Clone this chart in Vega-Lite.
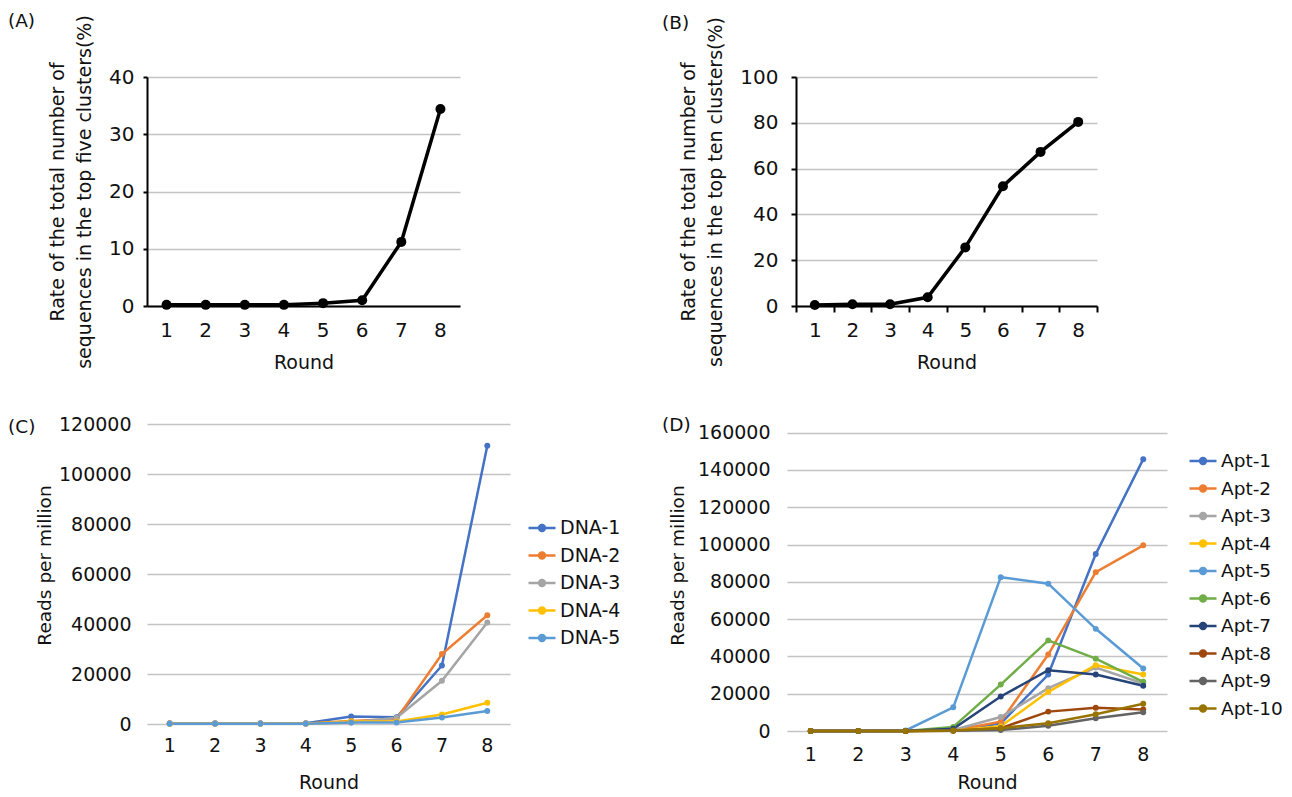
{
  "$schema": "https://vega.github.io/schema/vega-lite/v6.json",
  "background": "white",
  "padding": {"left": 8, "top": 12, "right": 0, "bottom": 0},
  "config": {
    "font": "DejaVu Sans",
    "view": {"stroke": null},
    "axis": {
      "labelFont": "DejaVu Sans",
      "titleFont": "DejaVu Sans",
      "labelColor": "#111111",
      "titleColor": "#111111",
      "titleFontWeight": "normal",
      "gridColor": "#c4c4c4",
      "gridWidth": 1.5,
      "labelAngle": 0
    },
    "legend": {
      "labelFont": "DejaVu Sans",
      "labelColor": "#111111",
      "padding": 0
    },
    "title": {"font": "DejaVu Sans", "fontWeight": "normal", "color": "#111111", "fontSize": 18.5}
  },
  "datasets": {
    "top5": [
      {"Round": 1, "Rate": 0.2}, {"Round": 2, "Rate": 0.2}, {"Round": 3, "Rate": 0.2}, {"Round": 4, "Rate": 0.2},
      {"Round": 5, "Rate": 0.5}, {"Round": 6, "Rate": 1.0}, {"Round": 7, "Rate": 11.2}, {"Round": 8, "Rate": 34.4}
    ],
    "top10": [
      {"Round": 1, "Rate": 0.4}, {"Round": 2, "Rate": 0.8}, {"Round": 3, "Rate": 0.8}, {"Round": 4, "Rate": 3.8},
      {"Round": 5, "Rate": 25.6}, {"Round": 6, "Rate": 52.3}, {"Round": 7, "Rate": 67.3}, {"Round": 8, "Rate": 80.4}
    ],
    "dna": [
      {"Sequence": "DNA-1", "Round": 1, "RPM": 300}, {"Sequence": "DNA-1", "Round": 2, "RPM": 300}, {"Sequence": "DNA-1", "Round": 3, "RPM": 300}, {"Sequence": "DNA-1", "Round": 4, "RPM": 300},
      {"Sequence": "DNA-1", "Round": 5, "RPM": 3000}, {"Sequence": "DNA-1", "Round": 6, "RPM": 2700}, {"Sequence": "DNA-1", "Round": 7, "RPM": 23400}, {"Sequence": "DNA-1", "Round": 8, "RPM": 111300},
      {"Sequence": "DNA-2", "Round": 1, "RPM": 200}, {"Sequence": "DNA-2", "Round": 2, "RPM": 200}, {"Sequence": "DNA-2", "Round": 3, "RPM": 200}, {"Sequence": "DNA-2", "Round": 4, "RPM": 200},
      {"Sequence": "DNA-2", "Round": 5, "RPM": 1200}, {"Sequence": "DNA-2", "Round": 6, "RPM": 2000}, {"Sequence": "DNA-2", "Round": 7, "RPM": 28000}, {"Sequence": "DNA-2", "Round": 8, "RPM": 43500},
      {"Sequence": "DNA-3", "Round": 1, "RPM": 200}, {"Sequence": "DNA-3", "Round": 2, "RPM": 200}, {"Sequence": "DNA-3", "Round": 3, "RPM": 200}, {"Sequence": "DNA-3", "Round": 4, "RPM": 200},
      {"Sequence": "DNA-3", "Round": 5, "RPM": 600}, {"Sequence": "DNA-3", "Round": 6, "RPM": 2500}, {"Sequence": "DNA-3", "Round": 7, "RPM": 17300}, {"Sequence": "DNA-3", "Round": 8, "RPM": 40600},
      {"Sequence": "DNA-4", "Round": 1, "RPM": 100}, {"Sequence": "DNA-4", "Round": 2, "RPM": 100}, {"Sequence": "DNA-4", "Round": 3, "RPM": 100}, {"Sequence": "DNA-4", "Round": 4, "RPM": 100},
      {"Sequence": "DNA-4", "Round": 5, "RPM": 1000}, {"Sequence": "DNA-4", "Round": 6, "RPM": 1000}, {"Sequence": "DNA-4", "Round": 7, "RPM": 3800}, {"Sequence": "DNA-4", "Round": 8, "RPM": 8500},
      {"Sequence": "DNA-5", "Round": 1, "RPM": 100}, {"Sequence": "DNA-5", "Round": 2, "RPM": 100}, {"Sequence": "DNA-5", "Round": 3, "RPM": 100}, {"Sequence": "DNA-5", "Round": 4, "RPM": 100},
      {"Sequence": "DNA-5", "Round": 5, "RPM": 600}, {"Sequence": "DNA-5", "Round": 6, "RPM": 600}, {"Sequence": "DNA-5", "Round": 7, "RPM": 2600}, {"Sequence": "DNA-5", "Round": 8, "RPM": 5200}
    ],
    "apt": [
      {"Sequence": "Apt-1", "Round": 1, "RPM": 0}, {"Sequence": "Apt-1", "Round": 2, "RPM": 0}, {"Sequence": "Apt-1", "Round": 3, "RPM": 0}, {"Sequence": "Apt-1", "Round": 4, "RPM": 500},
      {"Sequence": "Apt-1", "Round": 5, "RPM": 4000}, {"Sequence": "Apt-1", "Round": 6, "RPM": 30300}, {"Sequence": "Apt-1", "Round": 7, "RPM": 94900}, {"Sequence": "Apt-1", "Round": 8, "RPM": 145800},
      {"Sequence": "Apt-2", "Round": 1, "RPM": 0}, {"Sequence": "Apt-2", "Round": 2, "RPM": 0}, {"Sequence": "Apt-2", "Round": 3, "RPM": 0}, {"Sequence": "Apt-2", "Round": 4, "RPM": 300},
      {"Sequence": "Apt-2", "Round": 5, "RPM": 5000}, {"Sequence": "Apt-2", "Round": 6, "RPM": 41000}, {"Sequence": "Apt-2", "Round": 7, "RPM": 85200}, {"Sequence": "Apt-2", "Round": 8, "RPM": 99600},
      {"Sequence": "Apt-3", "Round": 1, "RPM": 0}, {"Sequence": "Apt-3", "Round": 2, "RPM": 0}, {"Sequence": "Apt-3", "Round": 3, "RPM": 0}, {"Sequence": "Apt-3", "Round": 4, "RPM": 500},
      {"Sequence": "Apt-3", "Round": 5, "RPM": 7500}, {"Sequence": "Apt-3", "Round": 6, "RPM": 23000}, {"Sequence": "Apt-3", "Round": 7, "RPM": 34000}, {"Sequence": "Apt-3", "Round": 8, "RPM": 25500},
      {"Sequence": "Apt-4", "Round": 1, "RPM": 0}, {"Sequence": "Apt-4", "Round": 2, "RPM": 0}, {"Sequence": "Apt-4", "Round": 3, "RPM": 0}, {"Sequence": "Apt-4", "Round": 4, "RPM": 200},
      {"Sequence": "Apt-4", "Round": 5, "RPM": 2500}, {"Sequence": "Apt-4", "Round": 6, "RPM": 21000}, {"Sequence": "Apt-4", "Round": 7, "RPM": 35300}, {"Sequence": "Apt-4", "Round": 8, "RPM": 30300},
      {"Sequence": "Apt-5", "Round": 1, "RPM": 0}, {"Sequence": "Apt-5", "Round": 2, "RPM": 0}, {"Sequence": "Apt-5", "Round": 3, "RPM": 300}, {"Sequence": "Apt-5", "Round": 4, "RPM": 12700},
      {"Sequence": "Apt-5", "Round": 5, "RPM": 82500}, {"Sequence": "Apt-5", "Round": 6, "RPM": 79000}, {"Sequence": "Apt-5", "Round": 7, "RPM": 54800}, {"Sequence": "Apt-5", "Round": 8, "RPM": 33500},
      {"Sequence": "Apt-6", "Round": 1, "RPM": 0}, {"Sequence": "Apt-6", "Round": 2, "RPM": 0}, {"Sequence": "Apt-6", "Round": 3, "RPM": 0}, {"Sequence": "Apt-6", "Round": 4, "RPM": 2200},
      {"Sequence": "Apt-6", "Round": 5, "RPM": 24900}, {"Sequence": "Apt-6", "Round": 6, "RPM": 48600}, {"Sequence": "Apt-6", "Round": 7, "RPM": 38800}, {"Sequence": "Apt-6", "Round": 8, "RPM": 26400},
      {"Sequence": "Apt-7", "Round": 1, "RPM": 0}, {"Sequence": "Apt-7", "Round": 2, "RPM": 0}, {"Sequence": "Apt-7", "Round": 3, "RPM": 0}, {"Sequence": "Apt-7", "Round": 4, "RPM": 1200},
      {"Sequence": "Apt-7", "Round": 5, "RPM": 18500}, {"Sequence": "Apt-7", "Round": 6, "RPM": 32600}, {"Sequence": "Apt-7", "Round": 7, "RPM": 30300}, {"Sequence": "Apt-7", "Round": 8, "RPM": 24300},
      {"Sequence": "Apt-8", "Round": 1, "RPM": 0}, {"Sequence": "Apt-8", "Round": 2, "RPM": 0}, {"Sequence": "Apt-8", "Round": 3, "RPM": 0}, {"Sequence": "Apt-8", "Round": 4, "RPM": 200},
      {"Sequence": "Apt-8", "Round": 5, "RPM": 1500}, {"Sequence": "Apt-8", "Round": 6, "RPM": 10400}, {"Sequence": "Apt-8", "Round": 7, "RPM": 12500}, {"Sequence": "Apt-8", "Round": 8, "RPM": 11500},
      {"Sequence": "Apt-9", "Round": 1, "RPM": 0}, {"Sequence": "Apt-9", "Round": 2, "RPM": 0}, {"Sequence": "Apt-9", "Round": 3, "RPM": 0}, {"Sequence": "Apt-9", "Round": 4, "RPM": 100},
      {"Sequence": "Apt-9", "Round": 5, "RPM": 500}, {"Sequence": "Apt-9", "Round": 6, "RPM": 2800}, {"Sequence": "Apt-9", "Round": 7, "RPM": 6800}, {"Sequence": "Apt-9", "Round": 8, "RPM": 10000},
      {"Sequence": "Apt-10", "Round": 1, "RPM": 0}, {"Sequence": "Apt-10", "Round": 2, "RPM": 0}, {"Sequence": "Apt-10", "Round": 3, "RPM": 0}, {"Sequence": "Apt-10", "Round": 4, "RPM": 300},
      {"Sequence": "Apt-10", "Round": 5, "RPM": 1500}, {"Sequence": "Apt-10", "Round": 6, "RPM": 4200}, {"Sequence": "Apt-10", "Round": 7, "RPM": 9000}, {"Sequence": "Apt-10", "Round": 8, "RPM": 14600}
    ]
  },
  "spacing": 43,
  "vconcat": [
    {
      "align": "none",
      "spacing": 202,
      "hconcat": [
        {
          "width": 313,
          "height": 229,
          "title": {"text": "(A)", "anchor": "start", "frame": "group", "dx": -139, "offset": -16},
          "data": {"name": "top5"},
          "encoding": {
            "x": {
              "field": "Round", "type": "ordinal",
              "scale": {"type": "band", "paddingInner": 0, "paddingOuter": 0},
              "axis": {"title": "Round", "ticks": false, "grid": false, "domainColor": "#000000", "domainWidth": 2,
                       "labelFontSize": 20, "labelPadding": 14, "titleFontSize": 19, "titlePadding": 13}
            },
            "y": {
              "field": "Rate", "type": "quantitative",
              "scale": {"domain": [0, 40]},
              "axis": {"values": [0, 10, 20, 30, 40],
                       "title": ["Rate of the total number of", "sequences in the top five clusters(%)"],
                       "domainColor": "#000000", "domainWidth": 2, "tickColor": "#000000", "tickWidth": 2, "tickSize": 4,
                       "labelFontSize": 20, "labelPadding": 9, "titleFontSize": 19, "titleLineHeight": 27, "titlePadding": 14}
            }
          },
          "layer": [
            {"mark": {"type": "line", "color": "#000000", "strokeWidth": 3.5}},
            {"mark": {"type": "point", "filled": true, "color": "#000000", "size": 100, "opacity": 1}}
          ]
        },
        {
          "width": 301,
          "height": 229,
          "title": {"text": "(B)", "anchor": "start", "frame": "group", "dx": -134, "offset": -16},
          "data": {"name": "top10"},
          "encoding": {
            "x": {
              "field": "Round", "type": "ordinal",
              "scale": {"type": "band", "paddingInner": 0, "paddingOuter": 0},
              "axis": {"title": "Round", "ticks": true, "tickBand": "extent", "tickColor": "#000000", "tickWidth": 2, "tickSize": 6,
                       "grid": false, "domainColor": "#000000", "domainWidth": 2,
                       "labelFontSize": 20, "labelPadding": 8, "titleFontSize": 19, "titlePadding": 13}
            },
            "y": {
              "field": "Rate", "type": "quantitative",
              "scale": {"domain": [0, 100]},
              "axis": {"values": [0, 20, 40, 60, 80, 100],
                       "title": ["Rate of the total number of", "sequences in the top ten clusters(%)"],
                       "domainColor": "#000000", "domainWidth": 2, "tickColor": "#000000", "tickWidth": 2, "tickSize": 5,
                       "labelFontSize": 20, "labelPadding": 13, "titleFontSize": 19, "titleLineHeight": 27, "titlePadding": 14}
            }
          },
          "layer": [
            {"mark": {"type": "line", "color": "#000000", "strokeWidth": 3.5}},
            {"mark": {"type": "point", "filled": true, "color": "#000000", "size": 100, "opacity": 1}}
          ]
        }
      ]
    },
    {
      "align": "none",
      "spacing": 41,
      "resolve": {"scale": {"color": "independent"}, "legend": {"color": "independent"}},
      "hconcat": [
        {
          "width": 363,
          "height": 300,
          "title": {"text": "(C)", "anchor": "start", "frame": "group", "dx": -139, "offset": -21},
          "data": {"name": "dna"},
          "encoding": {
            "x": {
              "field": "Round", "type": "ordinal",
              "scale": {"type": "band", "paddingInner": 0, "paddingOuter": 0},
              "axis": {"title": "Round", "ticks": false, "grid": false, "domain": false,
                       "labelFontSize": 19, "labelPadding": 12, "titleFontSize": 19, "titlePadding": 18}
            },
            "y": {
              "field": "RPM", "type": "quantitative",
              "scale": {"domain": [0, 120000]},
              "axis": {"values": [0, 20000, 40000, 60000, 80000, 100000, 120000], "format": "d",
                       "title": "Reads per million", "titleY": 141, "domain": false, "ticks": false,
                       "labelFontSize": 19, "labelPadding": 16, "titleFontSize": 18.5, "titlePadding": 4}
            },
            "color": {
              "field": "Sequence", "type": "nominal",
              "scale": {"domain": ["DNA-1", "DNA-2", "DNA-3", "DNA-4", "DNA-5"],
                        "range": ["#4472C4", "#ED7D31", "#A5A5A5", "#FFC000", "#5B9BD5"]},
              "legend": {"title": null, "orient": "none", "legendX": 380, "legendY": 89,
                         "symbolType": "M-1,0H1M-0.22,0A0.22,0.22,0,1,1,0.22,0A0.22,0.22,0,1,1,-0.22,0Z",
                         "symbolSize": 729, "symbolStrokeWidth": 2.5, "labelFontSize": 19, "labelOffset": 3, "rowPadding": 2.5}
            }
          },
          "layer": [
            {"mark": {"type": "line", "strokeWidth": 2.5}},
            {"mark": {"type": "point", "filled": true, "size": 35, "opacity": 1}}
          ]
        },
        {
          "width": 380,
          "height": 307,
          "title": {"text": "(D)", "anchor": "start", "frame": "group", "dx": -125, "offset": -11},
          "data": {"name": "apt"},
          "encoding": {
            "x": {
              "field": "Round", "type": "ordinal",
              "scale": {"type": "band", "paddingInner": 0, "paddingOuter": 0},
              "axis": {"title": "Round", "titleX": 200, "ticks": false, "grid": false, "domain": false,
                       "labelFontSize": 19, "labelPadding": 14, "titleFontSize": 19, "titlePadding": 9}
            },
            "y": {
              "field": "RPM", "type": "quantitative",
              "scale": {"domain": [0, 164670], "nice": false},
              "axis": {"values": [0, 20000, 40000, 60000, 80000, 100000, 120000, 140000, 160000], "format": "d",
                       "title": "Reads per million", "titleY": 141, "domain": false, "ticks": false,
                       "labelFontSize": 19, "labelPadding": 17, "titleFontSize": 18.5, "titlePadding": 10}
            },
            "color": {
              "field": "Sequence", "type": "nominal",
              "scale": {"domain": ["Apt-1", "Apt-2", "Apt-3", "Apt-4", "Apt-5", "Apt-6", "Apt-7", "Apt-8", "Apt-9", "Apt-10"],
                        "range": ["#4472C4", "#ED7D31", "#A5A5A5", "#FFC000", "#5B9BD5", "#70AD47", "#264478", "#9E480E", "#636363", "#997300"]},
              "legend": {"title": null, "orient": "none", "legendX": 401, "legendY": 22,
                         "symbolType": "M-1,0H1M-0.22,0A0.22,0.22,0,1,1,0.22,0A0.22,0.22,0,1,1,-0.22,0Z",
                         "symbolSize": 729, "symbolStrokeWidth": 2.5, "labelFontSize": 18.5, "labelOffset": 3, "rowPadding": 2.5}
            }
          },
          "layer": [
            {"mark": {"type": "line", "strokeWidth": 2.5}},
            {"mark": {"type": "point", "filled": true, "size": 35, "opacity": 1}}
          ]
        }
      ]
    }
  ]
}
